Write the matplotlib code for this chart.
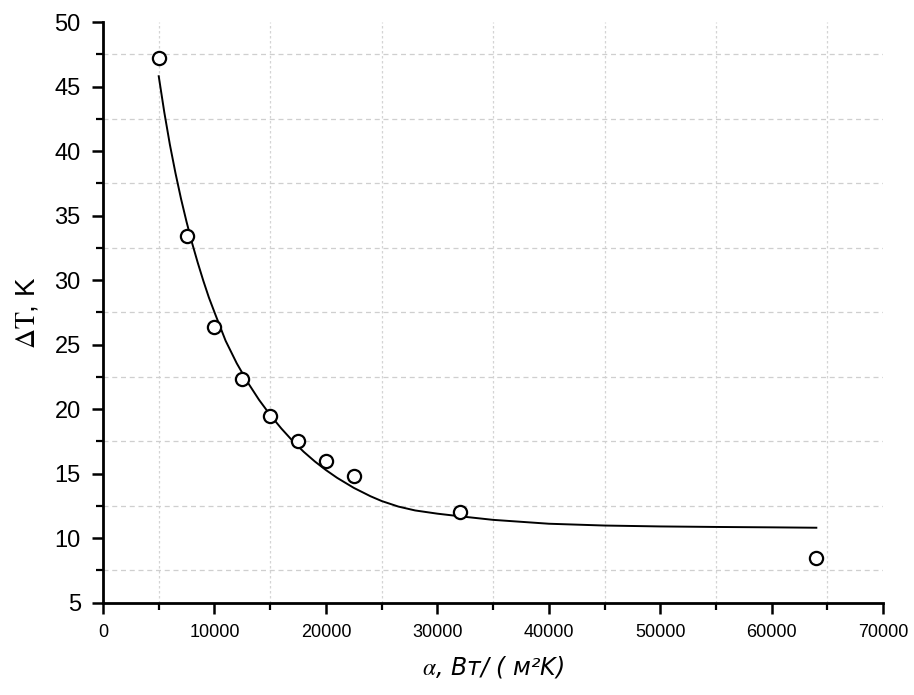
import numpy as np
import matplotlib
matplotlib.use("Agg")
import matplotlib.pyplot as plt
from matplotlib.ticker import MultipleLocator

plt.rcParams['font.family'] = ['Liberation Sans', 'DejaVu Sans']
plt.rcParams['mathtext.fontset'] = 'stix'

# измеренные точки
alpha_pts = [5000, 7500, 10000, 12500, 15000, 17500, 20000, 22500, 32000, 64000]
dT_pts = [47.2, 33.4, 26.4, 22.3, 19.5, 17.5, 16.0, 14.8, 12.0, 8.5]

# аппроксимирующая кривая
alpha_fit = [5000, 5500, 6000, 6500, 7000, 7500, 8000, 8500, 9000, 9500,
             10050, 11000, 12000, 13000, 14000, 15000, 16000, 17000, 18000,
             19000, 20000, 21000, 22500, 24000, 25000, 26500, 28000, 30000,
             32000, 35000, 40000, 45000, 50000, 55000, 60000, 64000]
dT_fit = [45.8, 43.0, 40.5, 38.3, 36.3, 34.5, 32.85, 31.35, 29.95, 28.65,
          27.4, 25.3, 23.55, 22.05, 20.72, 19.55, 18.5, 17.55, 16.7,
          15.95, 15.28, 14.68, 13.9, 13.25, 12.88, 12.45, 12.15, 11.9,
          11.7, 11.42, 11.12, 10.98, 10.91, 10.87, 10.84, 10.81]

fig = plt.figure(figsize=(9.14, 6.95), dpi=100)
ax = fig.add_axes([0.1127, 0.1328, 0.8536, 0.8355])

ax.plot(alpha_fit, dT_fit, color='black', lw=1.4, zorder=3)
ax.plot(alpha_pts, dT_pts, 'o', ms=9.5, mfc='white', mec='black', mew=1.6,
        zorder=4, clip_on=False)

ax.set_xlim(0, 70000)
ax.set_ylim(5, 50)
ax.xaxis.set_major_locator(MultipleLocator(10000))
ax.xaxis.set_minor_locator(MultipleLocator(5000))
ax.yaxis.set_major_locator(MultipleLocator(5))
ax.yaxis.set_minor_locator(MultipleLocator(2.5))

for s in ['top', 'right']:
    ax.spines[s].set_visible(False)
for s in ['left', 'bottom']:
    ax.spines[s].set_linewidth(2.0)

ax.tick_params(which='major', direction='out', length=8, width=1.8)
ax.tick_params(which='minor', direction='out', length=5, width=1.6)
ax.tick_params(axis='x', which='major', labelsize=13, pad=7)
ax.tick_params(axis='y', which='major', labelsize=17, pad=8)

ax.grid(False, which='major')
ax.yaxis.grid(True, which='minor', color='#cfcfcf', ls=(0, (4, 3)), lw=0.9)
ax.xaxis.grid(True, which='minor', color='#d4d4d4', ls=(0, (2, 2)), lw=0.9)
ax.set_axisbelow(True)

ax.set_xlabel(r'$\alpha$, Вт/ ( м²K)', fontsize=17, fontstyle='oblique',
              family=['DejaVu Sans'], labelpad=10)
ax.set_ylabel(r'$\Delta\mathrm{T}$, K', fontsize=20, labelpad=10)

fig.savefig('out.png', dpi=100)
